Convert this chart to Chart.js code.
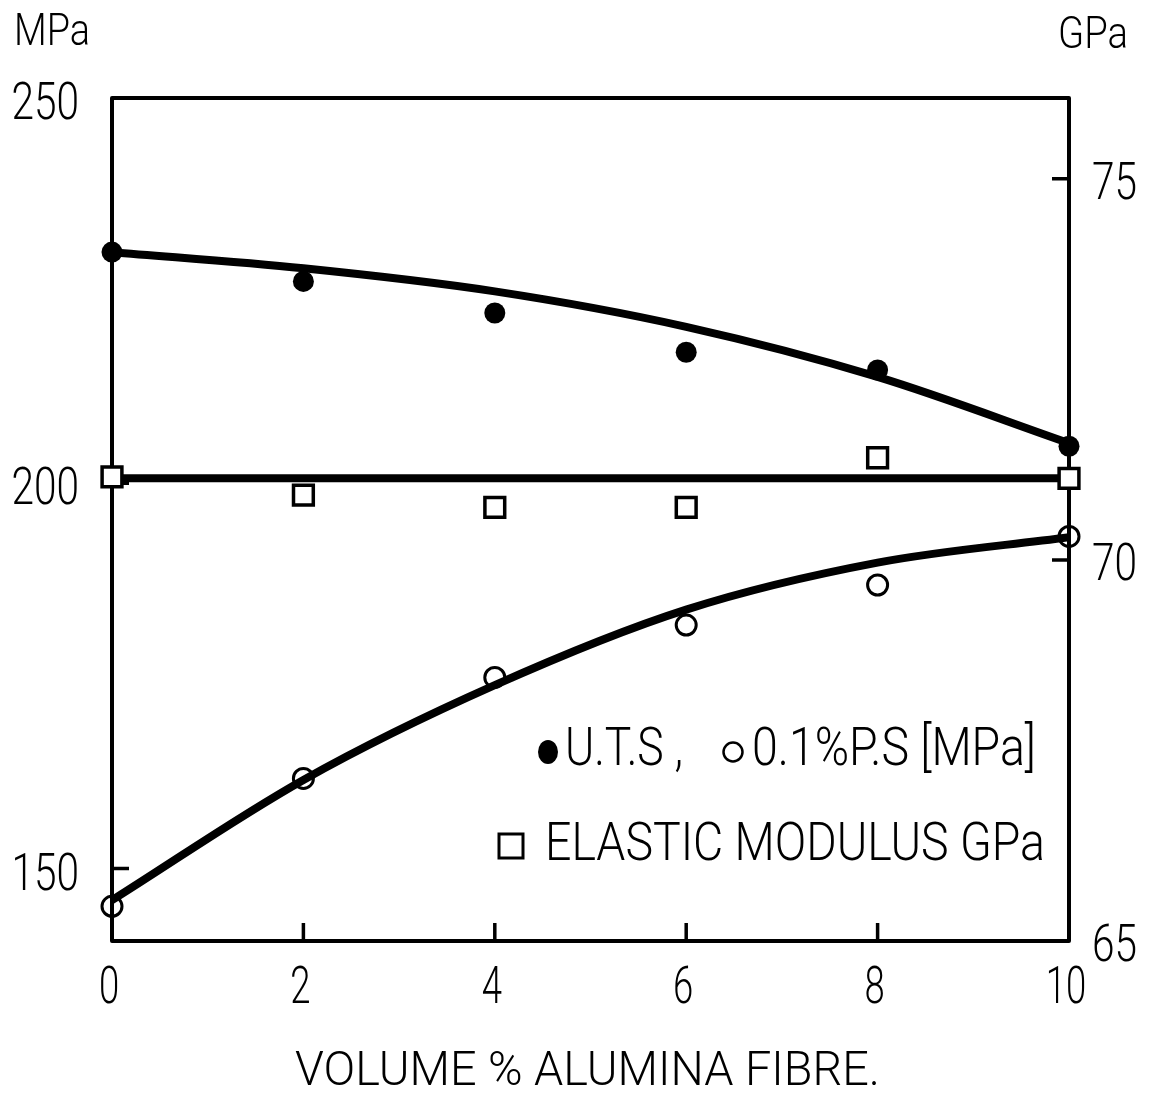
<!DOCTYPE html>
<html>
<head>
<meta charset="utf-8">
<title>Alumina fibre composite properties</title>
<script src="https://cdn.jsdelivr.net/npm/chart.js@4/dist/chart.umd.min.js"></script>
<style>
  html, body { margin: 0; padding: 0; background: #fff; }
  #wrap { width: 1161px; height: 1094px; }
</style>
</head>
<body>
<div id="wrap"><canvas id="chart" width="1161" height="1094"></canvas></div>
<script>
// Volume fraction of alumina fibre (%)
const volumePct = [0, 2, 4, 6, 8, 10];

// Ultimate tensile strength (MPa): measured points and smoothed curve
const utsMeasured = [230.0, 226.2, 222.1, 217.0, 214.7, 204.8];
const utsCurve    = [230.0, 227.9, 224.9, 220.3, 213.8, 205.2];

// 0.1% proof stress (MPa): measured points and smoothed curve
const proofMeasured = [145.1, 161.7, 174.8, 181.6, 186.8, 193.1];
const proofCurve    = [145.9, 161.5, 173.8, 183.6, 189.7, 193.0];

// Elastic modulus (GPa): measured points and mean line
const modulusMeasured = [71.09, 70.85, 70.69, 70.69, 71.34, 71.07];
const modulusLine     = [71.07, 71.07, 71.07, 71.07, 71.07, 71.07];

// Axis ticks and their printed labels
const mpaTicks = [150, 200, 250];
const gpaTicks = [65, 70, 75];
const volumeTicks = [0, 2, 4, 6, 8, 10];
const mpaLabels = ['150', '200', '250'];
const gpaLabels = ['65', '70', '75'];
const volumeLabels = ['0', '2', '4', '6', '8', '10'];

const FAMILY = "Roboto, 'DejaVu Sans Condensed', sans-serif";
const WEIGHT = 300;
const INK = '#000';

const pts = (ys) => volumePct.map((x, i) => ({ x, y: ys[i] }));

// Narrow stencil-style lettering: text is squeezed to a set width.
// align: 'left' | 'right' | 'center' relative to x
function fitText(ctx, text, x, yBase, size, width, align) {
  ctx.save();
  ctx.font = WEIGHT + ' ' + size + 'px ' + FAMILY;
  ctx.fillStyle = INK;
  ctx.textAlign = 'left';
  ctx.textBaseline = 'alphabetic';
  const w = ctx.measureText(text).width;
  let left = x;
  if (align === 'right') left = x - width;
  else if (align === 'center') left = x - width / 2;
  ctx.translate(left, yBase);
  ctx.scale(width / w, 1);
  ctx.fillText(text, 0, 0);
  ctx.restore();
}

const DIGIT_W = 22.5;

// Frame with inward tick marks, tick labels, unit labels and the key
const inkPlugin = {
  id: 'ink',
  beforeDatasetsDraw(chart) {
    const { ctx, chartArea: a, scales } = chart;
    ctx.save();
    ctx.strokeStyle = INK;
    ctx.lineWidth = 4;
    ctx.lineJoin = 'round';
    ctx.strokeRect(a.left, a.top, a.right - a.left, a.bottom - a.top);
    ctx.lineWidth = 3.5;
    ctx.beginPath();
    for (const v of mpaTicks) {
      const y = scales.yMPa.getPixelForValue(v);
      ctx.moveTo(a.left, y); ctx.lineTo(a.left + 17, y);
    }
    for (const v of gpaTicks) {
      const y = scales.yGPa.getPixelForValue(v);
      ctx.moveTo(a.right, y); ctx.lineTo(a.right - 17, y);
    }
    for (const v of volumeTicks) {
      const x = scales.x.getPixelForValue(v);
      ctx.moveTo(x, a.bottom); ctx.lineTo(x, a.bottom - 18);
    }
    ctx.stroke();
    ctx.restore();

    // tick labels
    mpaTicks.forEach((v, i) => {
      const y = scales.yMPa.getPixelForValue(v);
      fitText(ctx, mpaLabels[i], a.left - 33, y + 21, 52, DIGIT_W * mpaLabels[i].length, 'right');
    });
    gpaTicks.forEach((v, i) => {
      const y = scales.yGPa.getPixelForValue(v);
      fitText(ctx, gpaLabels[i], a.right + 23, y + 20, 52, DIGIT_W * gpaLabels[i].length, 'left');
    });
    volumeTicks.forEach((v, i) => {
      const x = scales.x.getPixelForValue(v);
      fitText(ctx, volumeLabels[i], x - 3, a.bottom + 62, 52, DIGIT_W * volumeLabels[i].length * 0.9, 'center');
    });
  },
  afterDraw(chart) {
    const { ctx } = chart;
    // unit labels above each vertical axis
    fitText(ctx, 'MPa', 14, 45, 45, 76, 'left');
    fitText(ctx, 'GPa', 1058, 48, 45, 70, 'left');

    // key
    ctx.save();
    ctx.fillStyle = INK;
    ctx.strokeStyle = INK;
    ctx.beginPath();
    ctx.ellipse(548, 752, 10, 12, 0, 0, Math.PI * 2);
    ctx.fill();
    ctx.lineWidth = 2.5;
    ctx.beginPath();
    ctx.arc(733, 752, 9.5, 0, Math.PI * 2);
    ctx.stroke();
    ctx.lineWidth = 3;
    ctx.strokeRect(499, 834, 24, 24);
    ctx.restore();
    fitText(ctx, 'U.T.S ,', 565, 765, 53, 118, 'left');
    fitText(ctx, '0.1%P.S [MPa]', 752, 765, 53, 284, 'left');
    fitText(ctx, 'ELASTIC MODULUS GPa', 545, 860, 53, 500, 'left');

    // horizontal axis title
    fitText(ctx, 'VOLUME % ALUMINA FIBRE.', 295, 1085, 49, 585, 'left');
  }
};

const lineStyle = {
  showLine: true, pointRadius: 0, borderColor: INK, borderWidth: 8,
  cubicInterpolationMode: 'monotone', fill: false, borderCapStyle: 'round'
};

new Chart(document.getElementById('chart'), {
  type: 'scatter',
  data: {
    datasets: [
      { label: 'Elastic modulus', data: pts(modulusMeasured), yAxisID: 'yGPa',
        pointStyle: 'rect', pointRadius: 14, borderWidth: 3.5,
        borderColor: INK, backgroundColor: '#fff', clip: false },
      { label: 'Modulus mean', data: pts(modulusLine), yAxisID: 'yGPa', ...lineStyle,
        cubicInterpolationMode: 'default', tension: 0 },
      { label: 'U.T.S. curve', data: pts(utsCurve), yAxisID: 'yMPa', ...lineStyle },
      { label: '0.1% P.S. curve', data: pts(proofCurve), yAxisID: 'yMPa', ...lineStyle },
      { label: 'U.T.S.', data: pts(utsMeasured), yAxisID: 'yMPa',
        pointStyle: 'circle', pointRadius: 10.5, borderWidth: 0,
        backgroundColor: INK, borderColor: INK, clip: false },
      { label: '0.1% P.S.', data: pts(proofMeasured), yAxisID: 'yMPa',
        pointStyle: 'circle', pointRadius: 10, borderWidth: 3,
        backgroundColor: 'rgba(0,0,0,0)', borderColor: INK, clip: false }
    ]
  },
  options: {
    responsive: false,
    animation: false,
    devicePixelRatio: 1,
    layout: { padding: { top: 98, left: 0, right: 0, bottom: 0 } },
    plugins: { legend: { display: false }, tooltip: { enabled: false } },
    scales: {
      x: {
        type: 'linear', position: 'bottom', min: 0, max: 10,
        afterBuildTicks: (s) => { s.ticks = volumeTicks.map(v => ({ value: v })); },
        afterFit: (s) => { s.height = 153; },
        grid: { display: false, drawTicks: false },
        border: { display: false },
        ticks: { display: false }
      },
      yMPa: {
        type: 'linear', position: 'left', min: 140.6, max: 250,
        afterBuildTicks: (s) => { s.ticks = mpaTicks.map(v => ({ value: v })); },
        afterFit: (s) => { s.width = 112; },
        grid: { display: false, drawTicks: false },
        border: { display: false },
        ticks: { display: false }
      },
      yGPa: {
        type: 'linear', position: 'right', min: 65, max: 76.06,
        afterBuildTicks: (s) => { s.ticks = gpaTicks.map(v => ({ value: v })); },
        afterFit: (s) => { s.width = 92; },
        grid: { display: false, drawTicks: false },
        border: { display: false },
        ticks: { display: false }
      }
    }
  },
  plugins: [inkPlugin]
});
</script>
</body>
</html>
